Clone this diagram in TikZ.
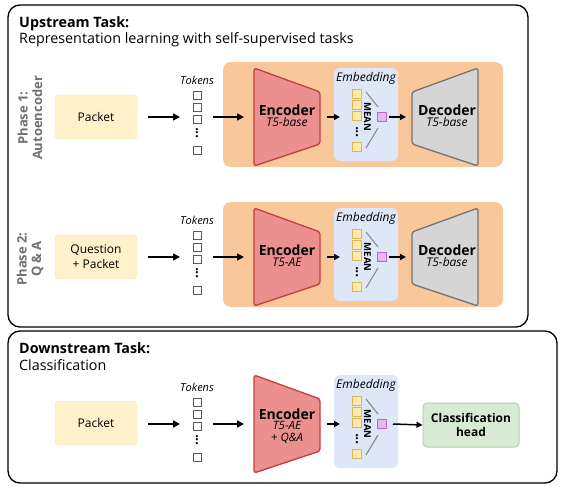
\documentclass[tikz,border=0pt]{standalone}
\usepackage{fontspec}
\setmainfont{Open Sans}
\usetikzlibrary{arrows.meta}
\definecolor{orangebg}{HTML}{F9C89A}
\definecolor{encfill}{HTML}{EB8F8F}
\definecolor{encdraw}{HTML}{C63F3F}
\definecolor{decfill}{HTML}{D5D5D5}
\definecolor{decdraw}{HTML}{747474}
\definecolor{packfill}{HTML}{FFF1CA}
\definecolor{embfill}{HTML}{DDE7F7}
\definecolor{yfill}{HTML}{FFE8A8}
\definecolor{ydraw}{HTML}{D9B85C}
\definecolor{pfill}{HTML}{E5B8F0}
\definecolor{pdraw}{HTML}{B26CD0}
\definecolor{gfill}{HTML}{D7EAD2}
\definecolor{gdraw}{HTML}{B0D59F}
\definecolor{phasegray}{HTML}{707070}
\tikzset{
  outerbox/.style={draw=black, line width=1.3pt, rounded corners=12pt},
  arr/.style={line width=1.5pt, -{Triangle[length=7pt,width=7pt]}},
  smallarr/.style={line width=1.5pt, -{Triangle[length=6pt,width=6pt]}},
  packetbox/.style={fill=packfill, draw=packfill!90!orange, rounded corners=3pt, minimum width=82pt, minimum height=44pt, inner sep=0pt, align=center, font=\fontsize{12}{15}\selectfont},
  headbox/.style={fill=gfill, draw=gdraw, line width=1pt, rounded corners=4pt, minimum width=96pt, minimum height=44pt, inner sep=0pt, align=center, font=\fontsize{12}{14}\selectfont\bfseries},
  tok/.style={draw=black!65, fill=white, line width=0.8pt, minimum size=8pt, inner sep=0pt},
  ysq/.style={draw=ydraw, fill=yfill, line width=0.7pt, minimum size=8.5pt, inner sep=0pt},
  psq/.style={draw=pdraw, fill=pfill, line width=0.7pt, minimum size=8.5pt, inner sep=0pt},
  vdotsnode/.style={inner sep=0pt, font=\fontsize{13}{13}\selectfont\bfseries},
  lbl/.style={font=\fontsize{11}{12}\selectfont\itshape, inner sep=0pt},
  emblbl/.style={font=\fontsize{12}{13}\selectfont\itshape, inner sep=0pt},
  encshape/.style={fill=encfill, draw=encdraw, line width=1.3pt, rounded corners=2.5pt},
  decshape/.style={fill=decfill, draw=decdraw, line width=1.3pt, rounded corners=2.5pt},
  blocktxt/.style={align=center, inner sep=0pt},
  meanline/.style={draw=black!45, line width=1.1pt},
  phase/.style={rotate=90, align=center, text=phasegray, font=\fontsize{13}{14.5}\selectfont\bfseries},
  title/.style={anchor=base west, inner sep=0pt, font=\fontsize{14.3}{16}\selectfont}
}
\newcommand\bigtxt{\fontsize{14}{15}\selectfont\bfseries}
\newcommand\subtxt{\fontsize{12}{13}\selectfont\itshape}
\newcommand\subtxtt{\fontsize{11.5}{9.5}\selectfont\itshape}
% token column: #1 prefix, #2 centre y
\newcommand\tokcolumn[2]{%
  \node[lbl] (#1l) at (197,#2-37) {Tokens};
  \node[tok] (#1a) at (197,#2-21.5) {};
  \node[tok] (#1b) at (197,#2-10) {};
  \node[tok] (#1c) at (197,#2+2) {};
  \node[vdotsnode] (#1d) at (197,#2+16) {\rotatebox{90}{...}};
  \node[tok] (#1e) at (197,#2+33) {};
  \coordinate (#1w) at (180,#2);
  \coordinate (#1o) at (213,#2);
}
% encoder shape: #1 name, #2 centre y
\newcommand\encodershape[2]{%
  \draw[encshape] (254,#2-49) -- (320,#2-25) -- (320,#2+27) -- (254,#2+49) -- cycle;
  \coordinate (#1w) at (244,#2);
  \coordinate (#1e) at (327,#2);
}
% embedding: #1 prefix, #2 centre y
\newcommand\embblock[2]{%
  \fill[embfill, rounded corners=6pt] (334,#2-49) rectangle (398,#2+44);
  \node[emblbl] (#1l) at (366,#2-39) {Embedding};
  \node[ysq] (#1a) at (357,#2-23) {};
  \node[ysq] (#1b) at (357,#2-12) {};
  \node[ysq] (#1c) at (357,#2-1) {};
  \node[vdotsnode] (#1d) at (357,#2+15) {\rotatebox{90}{...}};
  \node[ysq] (#1e) at (357,#2+30) {};
  \node[rotate=-90, inner sep=0pt, font=\fontsize{9.5}{9.5}\selectfont\bfseries] (#1m) at (367.5,#2) {MEAN};
  \draw[meanline] (366,#2-25) -- (378,#2-10);
  \draw[meanline] (378,#2+11) -- (366,#2+31);
  \node[psq] (#1p) at (382,#2) {};
  \coordinate (#1w) at (340,#2);
}
% decoder: #1 name, #2 centre y
\newcommand\decoderblock[2]{%
  \draw[decshape] (412,#2-25) -- (478,#2-49) -- (478,#2+49) -- (412,#2+27) -- cycle;
  \coordinate (#1w) at (406,#2);
  \node[blocktxt] (#1) at (447,#2-1) {\bigtxt Decoder\\[-1pt]\subtxt T5-base};
}
\begin{document}
\begin{tikzpicture}[x=1pt, y=-1pt]
\useasboundingbox (0,0) rectangle (564,489);

% ---------- outer boxes ----------
\draw[outerbox] (8,5) rectangle (528,327);
\draw[outerbox] (8,331) rectangle (557,483);

\node[title] (uptitle) at (19,28) {\bfseries Upstream Task:};
\node[title] (upsub) at (19,44) {Representation learning with self-supervised tasks};
\node[title] (downtitle) at (19,353) {\bfseries Downstream Task:};
\node[title] (downsub) at (19,370) {Classification};

% ================= Phase 1 (c = 117) =================
\node[phase] (ph1) at (30,118) {Phase 1:\\Autoencoder};
\fill[orangebg, rounded corners=8pt] (223,62) rectangle (503,167);
\node[packetbox] (pk1) at (96,117) {Packet};
\tokcolumn{t1}{117}
\encodershape{enc1}{117}
\node[blocktxt] (enc1) at (287,116) {\bigtxt Encoder\\[-1pt]\subtxt T5-base};
\embblock{e1}{117}
\decoderblock{dec1}{117}
\coordinate (pk1o) at (148,117);
\draw[arr] (pk1o) -- (t1w);
\draw[arr] (t1o) -- (enc1w);
\draw[smallarr] (enc1e) -- (e1w);
\coordinate (e1o) at (389,117);
\draw[smallarr] (e1o) -- (dec1w);

% ================= Phase 2 (c = 257) =================
\node[phase] (ph2) at (30,259) {Phase 2:\\Q \& A};
\fill[orangebg, rounded corners=8pt] (223,202) rectangle (503,307);
\node[packetbox] (pk2) at (96,257) {Question\\+ Packet};
\tokcolumn{t2}{257}
\encodershape{enc2}{257}
\node[blocktxt] (enc2) at (287,256) {\bigtxt Encoder\\[-1pt]\subtxt T5-AE};
\embblock{e2}{257}
\decoderblock{dec2}{257}
\coordinate (pk2o) at (148,257);
\draw[arr] (pk2o) -- (t2w);
\draw[arr] (t2o) -- (enc2w);
\draw[smallarr] (enc2e) -- (e2w);
\coordinate (e2o) at (389,257);
\draw[smallarr] (e2o) -- (dec2w);

% ================= Downstream (c = 424) =================
\node[packetbox] (pk3) at (96,423) {Packet};
\tokcolumn{t3}{424}
\encodershape{enc3}{424}
\node[blocktxt] (enc3) at (287,426) {\bigtxt Encoder\\[-2pt]\subtxtt T5-AE\\\subtxtt + Q\&A};
\embblock{e3}{424}
\node[headbox] (head) at (471,425) {Classification\\head};
\coordinate (pk3o) at (148,424);
\draw[arr] (pk3o) -- (t3w);
\draw[arr] (t3o) -- (enc3w);
\draw[smallarr] (enc3e) -- (e3w);
\coordinate (e3o) at (393,424);
\draw[smallarr] (e3o) -- (head.west);

\end{tikzpicture}
\end{document}
